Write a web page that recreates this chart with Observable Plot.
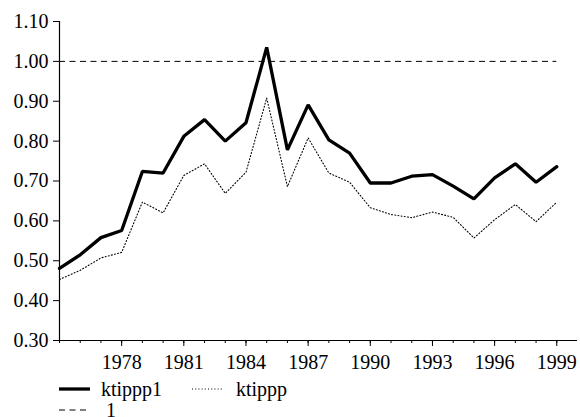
<!DOCTYPE html>
<html>
<head>
<meta charset="utf-8">
<script src="https://cdn.jsdelivr.net/npm/d3@7"></script>
<script src="https://cdn.jsdelivr.net/npm/@observablehq/plot@0.6"></script>
<style>
  html, body { margin: 0; padding: 0; background: #fff; }
  #chart { width: 580px; height: 417px; overflow: hidden; font-family: 'Liberation Serif'; }
  #chart svg { display: block; }
</style>
</head>
<body>
<div id="chart"></div>
<script>
const years = [1975,1976,1977,1978,1979,1980,1981,1982,1983,1984,1985,1986,1987,1988,1989,1990,1991,1992,1993,1994,1995,1996,1997,1998,1999];
const ktippp1 = [0.481,0.515,0.558,0.576,0.724,0.720,0.812,0.854,0.800,0.846,1.035,0.778,0.891,0.803,0.770,0.695,0.695,0.712,0.716,0.687,0.655,0.708,0.743,0.697,0.736];
const ktippp = [0.453,0.476,0.507,0.521,0.647,0.620,0.714,0.743,0.669,0.722,0.908,0.686,0.808,0.720,0.697,0.633,0.616,0.608,0.622,0.609,0.557,0.603,0.641,0.598,0.647];
const refValue = 1;
const xTickLabels = [1978,1981,1984,1987,1990,1993,1996,1999];
const yTicks = [0.30,0.40,0.50,0.60,0.70,0.80,0.90,1.00,1.10];
const xDomain = [1975, 2000];
const yDomain = [0.30, 1.10];
const seriesNames = ["ktippp1", "ktippp", "1"];
const serif = "'Liberation Serif'";

const rows = years.map((yr, i) => ({year: yr, a: ktippp1[i], b: ktippp[i]}));

const plot = Plot.plot({
  width: 580,
  height: 372,
  marginLeft: 59,
  marginRight: 3,
  marginTop: 21,
  marginBottom: 32,
  x: {domain: xDomain, label: null},
  y: {domain: yDomain, label: null},
  style: {fontSize: "20px", fontFamily: "Liberation Serif", color: "#000", background: "#fff", overflow: "visible"},
  marks: [
    Plot.ruleY([refValue], {x1: years[0], x2: years[years.length - 1], stroke: "#000", strokeWidth: 1, strokeDasharray: "6,4.5"}),
    Plot.line(rows, {x: "year", y: "b", stroke: "#000", strokeWidth: 1.1, strokeDasharray: "1,2.2"}),
    Plot.line(rows, {x: "year", y: "a", stroke: "#000", strokeWidth: 3.3, strokeLinejoin: "miter"}),
    Plot.ruleX([xDomain[0]], {y1: yDomain[0], y2: yDomain[1], stroke: "#000", strokeWidth: 1.2}),
    Plot.ruleY([yDomain[0]], {x1: xDomain[0], x2: xDomain[1], stroke: "#000", strokeWidth: 1.2}),
    Plot.axisY({ticks: yTicks, tickFormat: d3.format(".2f"), tickSize: 6, tickPadding: 5, fontSize: 20, fontFamily: "Liberation Serif", label: null}),
    Plot.axisX({ticks: years, tickSize: 3, tickFormat: () => "", label: null}),
    Plot.axisX({ticks: xTickLabels, tickSize: 6, tickPadding: 8, tickFormat: d => String(d), fontSize: 20, fontFamily: "Liberation Serif", label: null})
  ]
});
plot.setAttribute("font-family", "Liberation Serif");
document.getElementById("chart").appendChild(plot);

// Legend below the plot
const ns = "http://www.w3.org/2000/svg";
const leg = document.createElementNS(ns, "svg");
leg.setAttribute("width", 580);
leg.setAttribute("height", 45);
leg.setAttribute("font-size", "20");
leg.setAttribute("font-family", "Liberation Serif");
leg.style.fontFamily = serif;
const items = [
  {name: seriesNames[0], x: 59, y: 17, w: 3.3, dash: null, tx: 101},
  {name: seriesNames[1], x: 192, y: 17, w: 1.1, dash: "1,2.2", tx: 236},
  {name: seriesNames[2], x: 59, y: 38, w: 1, dash: "6,4.5", tx: 106}
];
for (const it of items) {
  const ln = document.createElementNS(ns, "line");
  ln.setAttribute("x1", it.x); ln.setAttribute("x2", it.x + 31);
  ln.setAttribute("y1", it.y); ln.setAttribute("y2", it.y);
  ln.setAttribute("stroke", "#000");
  ln.setAttribute("stroke-width", it.w);
  if (it.dash) ln.setAttribute("stroke-dasharray", it.dash);
  leg.appendChild(ln);
  const t = document.createElementNS(ns, "text");
  t.setAttribute("x", it.tx); t.setAttribute("y", it.y + 7);
  t.textContent = it.name;
  leg.appendChild(t);
}
document.getElementById("chart").appendChild(leg);
</script>
</body>
</html>
